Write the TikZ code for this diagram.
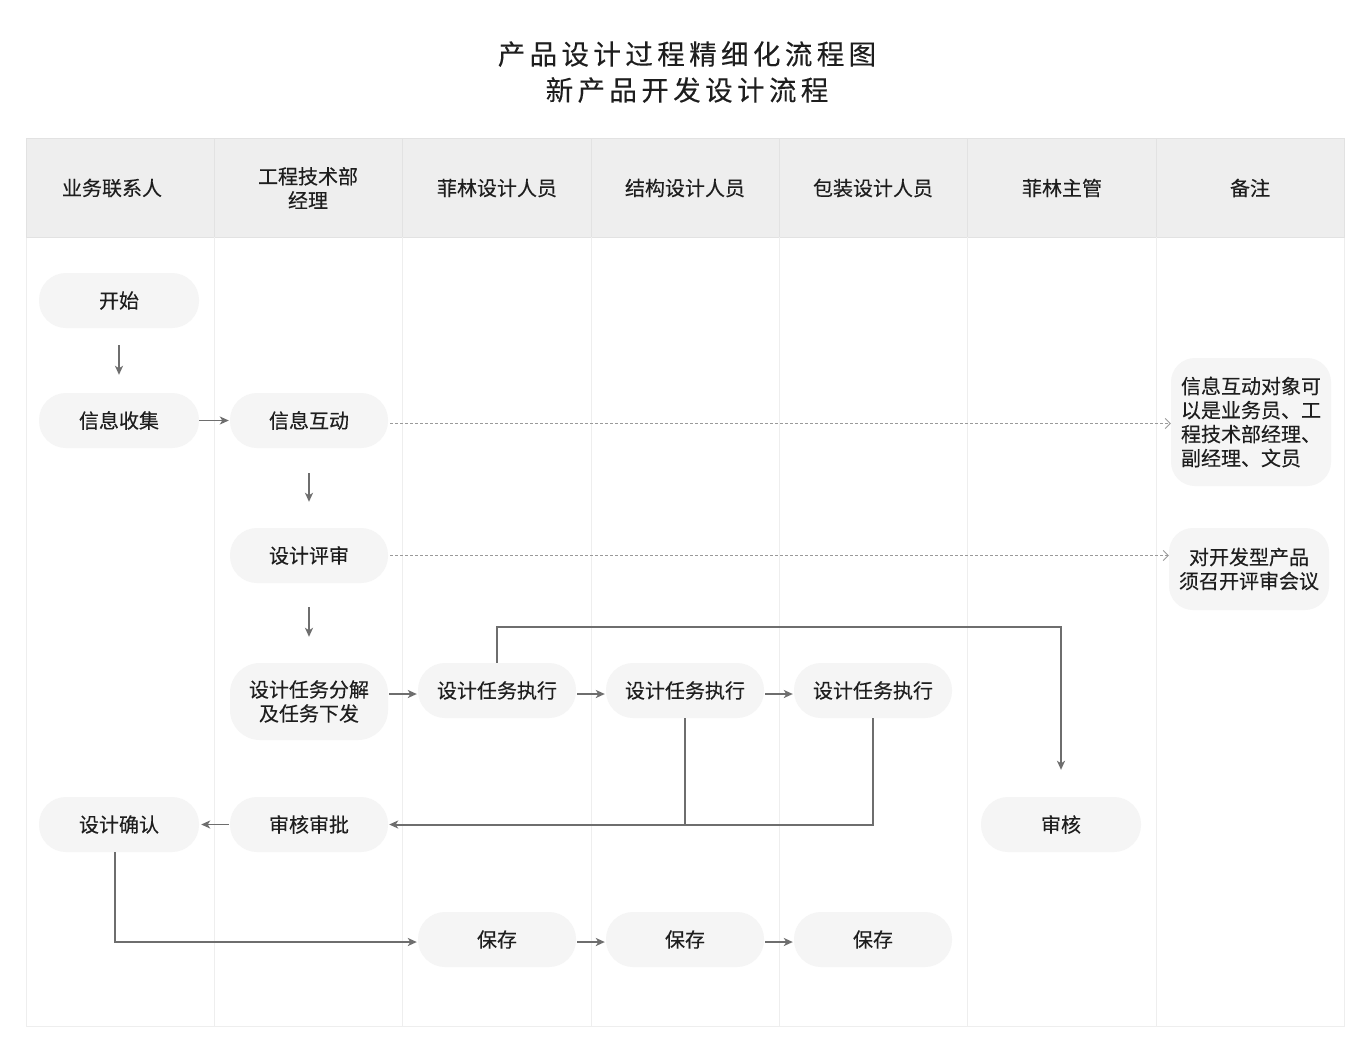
\documentclass[tikz,border=0pt]{standalone}
\usepackage{fontspec}
\setmainfont{Noto Sans CJK SC}
\newfontfamily\medfont{Noto Sans CJK SC}[FakeBold=0.25]
\newfontfamily\titlefont{Noto Sans CJK SC}[FakeBold=0.15,LetterSpace=16]
\usetikzlibrary{arrows.meta,calc}
\definecolor{nodefill}{HTML}{F5F5F5}
\definecolor{headfill}{HTML}{EEEEEE}
\definecolor{headline}{HTML}{E2E2E2}
\definecolor{bodyline}{HTML}{EEEEEE}
\definecolor{txt}{HTML}{1E1E1E}
\definecolor{conncol}{HTML}{6E6E6E}
\definecolor{dashcol}{HTML}{9A9A9A}
\newcommand{\bodyfont}{\medfont\fontsize{20}{24}\selectfont}
\begin{document}
\begin{tikzpicture}[x=1pt,y=-1pt,
  stepbox/.style={fill=nodefill,draw=none,rounded corners=27pt,minimum width=158pt,minimum height=55pt,
    inner sep=0pt,align=center,text=txt,font=\bodyfont},
  notebox/.style={stepbox,rounded corners=24pt},
  headtext/.style={align=center,text=txt,font=\bodyfont},
  arr/.style={draw=conncol,line width=1.8pt,-{Stealth[length=9pt,width=8pt,inset=2.5pt]}},
  conn/.style={draw=conncol,line width=2pt},
  dasharr/.style={draw=dashcol,line width=0.9pt,dash pattern=on 3pt off 2pt,-{Straight Barb[length=5pt,width=10pt,line width=0.9pt]}}
]
\useasboundingbox (0,0) rectangle (1370,1047);
\fill[white] (0,0) rectangle (1370,1047);

% title
\node[text=txt,align=center,font=\titlefont\fontsize{27.5}{36}\selectfont] (title) at (687,72)
  {产品设计过程精细化流程图\\新产品开发设计流程};

% table
\fill[headfill] (26,138) rectangle (1344,237);
\draw[bodyline,line width=1pt] (26,237) rectangle (1344,1026);
\draw[headline,line width=1pt] (26,138) rectangle (1344,237);
\foreach \x in {214,402.5,591,779,967.5,1156}{
  \draw[headline,line width=1pt] (\x,138) -- (\x,237);
  \draw[bodyline,line width=1pt] (\x,237) -- (\x,1026);
}
\node[headtext] (h1) at (112,188) {业务联系人};
\node[headtext] (h2) at (308,188) {工程技术部\\经理};
\node[headtext] (h3) at (497,188) {菲林设计人员};
\node[headtext] (h4) at (685,188) {结构设计人员};
\node[headtext] (h5) at (873,188) {包装设计人员};
\node[headtext] (h6) at (1062,188) {菲林主管};
\node[headtext] (h7) at (1250,188) {备注};

% nodes
\node[stepbox,minimum width=160pt] (start) at (119,300.5) {开始};
\node[stepbox,minimum width=160pt] (collect) at (119,420.5) {信息收集};
\node[stepbox] (interact) at (309,420.5) {信息互动};
\node[stepbox] (review) at (309,555.5) {设计评审};
\node[stepbox,minimum height=77pt,rounded corners=30pt] (decomp) at (309,701.5) {设计任务分解\\及任务下发};
\node[stepbox] (exec1) at (497,690.5) {设计任务执行};
\node[stepbox] (exec2) at (685,690.5) {设计任务执行};
\node[stepbox] (exec3) at (873,690.5) {设计任务执行};
\node[stepbox,minimum width=160pt] (confirm) at (119,824.5) {设计确认};
\node[stepbox] (approve) at (309,824.5) {审核审批};
\node[stepbox,minimum width=160pt] (check) at (1061,824.5) {审核};
\node[stepbox] (save1) at (497,939.5) {保存};
\node[stepbox] (save2) at (685,939.5) {保存};
\node[stepbox] (save3) at (873,939.5) {保存};
\node[notebox,minimum width=160pt,minimum height=128pt,align=left] (note1) at (1251,422)
  {信息互动对象可\\以是业务员、工\\程技术部经理、\\副经理、文员};
\node[notebox,minimum width=160pt,minimum height=82pt] (note2) at (1249,569)
  {对开发型产品\\须召开评审会议};

% connectors
\draw[arr,shorten <=17pt,shorten >=18pt] (start) -- (collect);
\draw[arr,shorten >=1pt] (collect.east) -- (interact.west);
\draw[arr,shorten <=25pt,shorten >=26pt] (interact.south) -- (review.north);
\draw[arr,shorten <=24pt,shorten >=26pt] (review.south) -- (decomp.north);
\draw[arr,shorten <=1pt,shorten >=1pt] ([yshift=-3.5pt]exec1.west -| decomp.east) -- ([yshift=-3.5pt]exec1.west);
\draw[arr,shorten <=1pt,shorten >=1pt] ([yshift=-3.5pt]exec1.east) -- ([yshift=-3.5pt]exec2.west);
\draw[arr,shorten <=1pt,shorten >=1pt] ([yshift=-3.5pt]exec2.east) -- ([yshift=-3.5pt]exec3.west);
\draw[conn,-{Stealth[length=9pt,width=8pt,inset=2.5pt]},shorten >=27pt] (exec1.north) -- ++(0,-36) -| (check.north);
\draw[conn] (exec2.south) -- (exec2.south |- approve.east);
\draw[conn,-{Stealth[length=9pt,width=8pt,inset=2.5pt]},shorten >=1pt] (exec3.south) |- (approve.east);
\draw[arr,shorten <=1pt,shorten >=2pt] (approve.west) -- (confirm.east);
\draw[conn,-{Stealth[length=9pt,width=8pt,inset=2.5pt]},shorten >=1pt] ([xshift=-4pt]confirm.south) |- ([yshift=-2.5pt]save1.west);
\draw[arr,shorten <=1pt,shorten >=1pt] ([yshift=-2.5pt]save1.east) -- ([yshift=-2.5pt]save2.west);
\draw[arr,shorten <=1pt,shorten >=1pt] ([yshift=-2.5pt]save2.east) -- ([yshift=-2.5pt]save3.west);
\draw[dasharr,shorten <=2pt] ([yshift=-3pt]interact.east) -- ([yshift=-3pt]interact.east -| note1.west);
\draw[dasharr,shorten <=2pt] (review.east) -- (review.east -| note2.west);
\end{tikzpicture}
\end{document}
